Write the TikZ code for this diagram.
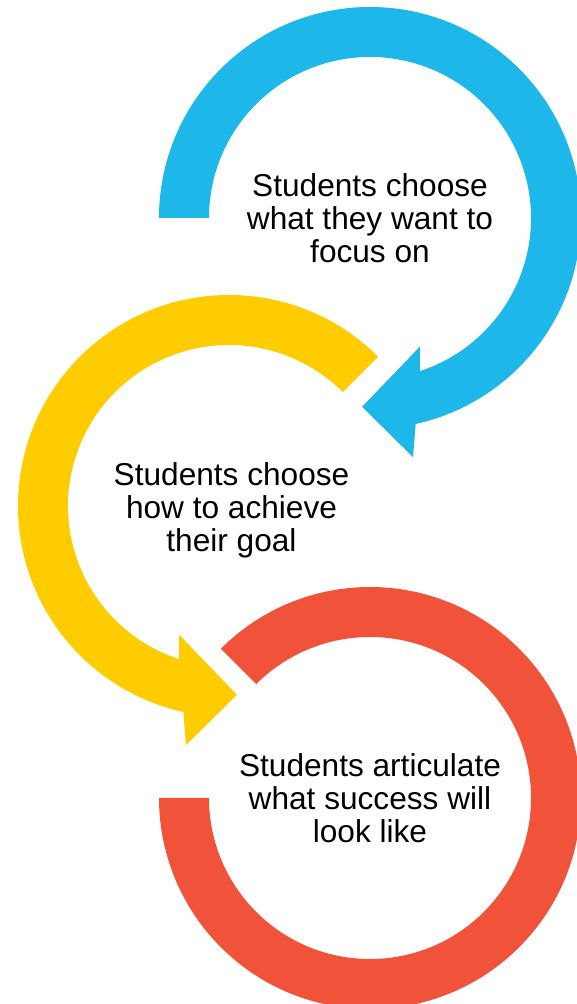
\documentclass[tikz,border=0pt]{standalone}
\usepackage{fontspec}
\setmainfont{Liberation Sans}

\definecolor{ringblue}{HTML}{1DB7E9}
\definecolor{ringyellow}{HTML}{FFCC00}
\definecolor{ringred}{HTML}{F0533A}

\begin{document}
\begin{tikzpicture}[x=0.02cm, y=0.02cm]
    % outer and inner radius of each ring
    \def\ro{211}
    \def\ri{161}
    \useasboundingbox (0,0) rectangle (577,1004);

    % ring centres
    \coordinate (B) at (370,786);
    \coordinate (Y) at (229,498);
    \coordinate (R) at (370,206);

    % blue ring, runs clockwise and ends in an arrow head
    \fill[ringblue, shift={(B)}] (180:\ro) arc[start angle=180, end angle=-77.5, radius=\ro]
        -- (-79.8:243) -- (-92.4:189) -- (-68.8:138) -- (-72:\ri)
        arc[start angle=-72, end angle=180, radius=\ri] -- cycle;

    % yellow ring, runs anticlockwise (mirror of the blue one)
    \fill[ringyellow, shift={(Y)}] (45:\ro) arc[start angle=45, end angle=257.5, radius=\ro]
        -- (259.8:243) -- (272.4:189) -- (248.8:138) -- (252:\ri)
        arc[start angle=252, end angle=45, radius=\ri] -- cycle;

    % red ring, no arrow head
    \fill[ringred, shift={(R)}] (135:\ro) arc[start angle=135, end angle=-180, radius=\ro]
        -- (180:\ri) arc[start angle=-180, end angle=135, radius=\ri] -- cycle;

    % texts in the middle of the rings
    \node[align=center, font=\fontsize{18}{18.7}\selectfont] (focus) at (B) {Students choose\\what they want to\\focus on};
    \node[align=center, font=\fontsize{18}{18.7}\selectfont, xshift=0.05cm, yshift=-0.09cm] (goal) at (Y) {Students choose\\how to achieve\\their goal};
    \node[align=center, font=\fontsize{18}{18.7}\selectfont] (success) at (R) {Students articulate\\what success will\\look like};

\end{tikzpicture}
\end{document}
